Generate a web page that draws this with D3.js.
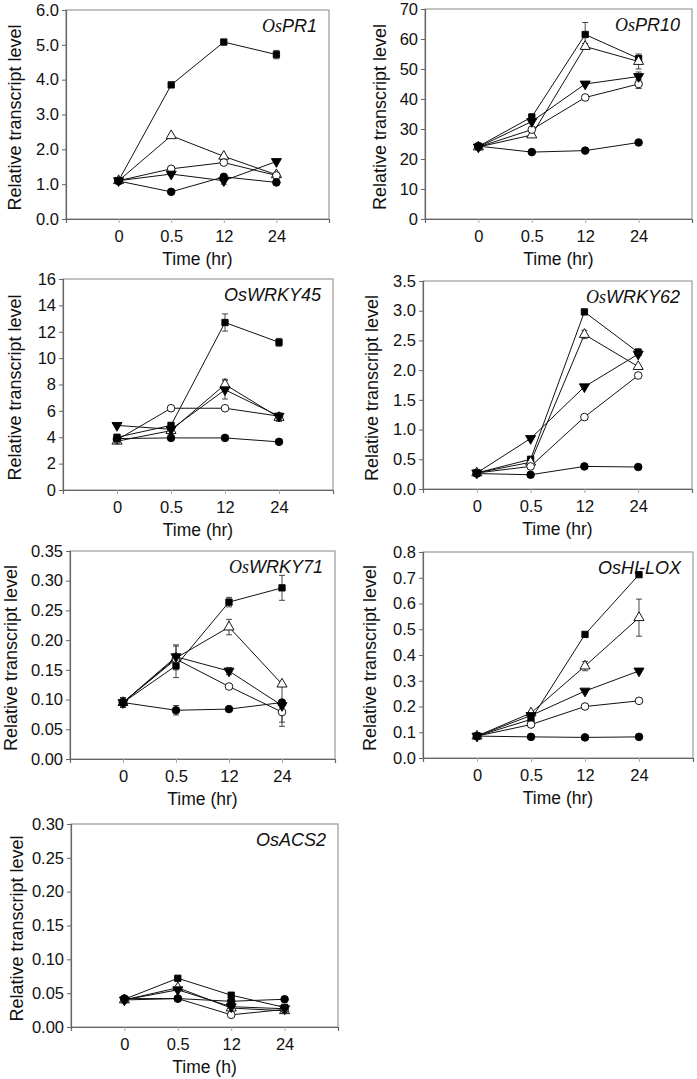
<!DOCTYPE html>
<html>
<head>
<meta charset="utf-8">
<script src="https://cdn.jsdelivr.net/npm/d3@7"></script>
<style>
  body { margin: 0; background: #fff; }
  text { font-family: "Liberation Sans", Arial, sans-serif; fill: #111; }
  .axis-title { font-size: 17.5px; }
  .y-title { font-size: 18px; }
  .gene { font-size: 18px; font-style: italic; }
  .os-serif { font-family: "Liberation Serif", "Times New Roman", serif; }
</style>
</head>
<body>
<div class="chart"></div>
<script>
// x categories (time points)
const times = ['0', '0.5', '12', '24'];

// gene panels
const genes = ['PR1', 'PR10', 'WRKY45', 'WRKY62', 'WRKY71', 'HI-LOX', 'ACS2'];
const serifOs = [true, true, false, true, true, false, false];
const yMax = [6, 70, 16, 3.5, 0.35, 0.8, 0.30];
const yStep = [1, 10, 2, 0.5, 0.05, 0.1, 0.05];
const yFmt = ['.1f', 'd', 'd', '.1f', '.2f', '.1f', '.2f'];
const xTitles = ['Time (hr)', 'Time (hr)', 'Time (hr)', 'Time (hr)', 'Time (hr)', 'Time (hr)', 'Time (h)'];

// series order: filled square, open triangle, open circle, filled down-triangle, filled circle
const pr1 = [
  [1.1, 3.85, 5.08, 4.72],
  [1.1, 2.39, 1.8, 1.27],
  [1.1, 1.44, 1.62, 1.25],
  [1.1, 1.29, 1.1, 1.65],
  [1.09, 0.78, 1.21, 1.05]
];
const pr1Err = [
  [0.03, 0.05, 0.05, 0.12],
  [0.03, 0.08, 0.06, 0.05],
  [0.03, 0.04, 0.05, 0.04],
  [0.03, 0.04, 0.1, 0.04],
  [0.03, 0.04, 0.05, 0.04]
];

const pr10 = [
  [24.2, 34, 61.5, 53.5],
  [24, 28, 57.5, 52.5],
  [24, 29.8, 40.5, 45],
  [24, 32.5, 45, 47.5],
  [24.3, 22.3, 22.8, 25.5]
];
const pr10Err = [
  [0.5, 1, 4, 1],
  [0.5, 0.8, 1, 2.5],
  [0.5, 0.8, 0.8, 1.5],
  [0.5, 0.8, 0.6, 1.5],
  [0.5, 0.5, 0.6, 0.6]
];

const wrky45 = [
  [4.0, 4.9, 12.7, 11.2],
  [3.7, 4.5, 8.0, 5.5],
  [3.8, 6.2, 6.2, 5.6],
  [4.9, 4.6, 7.6, 5.6],
  [3.9, 3.95, 3.95, 3.65]
];
const wrky45Err = [
  [0.15, 0.15, 0.65, 0.3],
  [0.1, 0.15, 0.4, 0.3],
  [0.1, 0.1, 0.1, 0.15],
  [0.1, 0.1, 0.7, 0.2],
  [0.1, 0.15, 0.1, 0.1]
];

const wrky62 = [
  [0.27, 0.5, 2.98, 2.3],
  [0.27, 0.45, 2.6, 2.06],
  [0.27, 0.38, 1.21, 1.91],
  [0.27, 0.85, 1.72, 2.27],
  [0.26, 0.24, 0.38, 0.37]
];
const wrky62Err = [
  [0.02, 0.03, 0.03, 0.06],
  [0.02, 0.03, 0.07, 0.05],
  [0.02, 0.03, 0.03, 0.04],
  [0.02, 0.02, 0.03, 0.03],
  [0.02, 0.02, 0.02, 0.02]
];

const wrky71 = [
  [0.095, 0.157, 0.264, 0.288],
  [0.095, 0.17, 0.222, 0.126],
  [0.095, 0.168, 0.122, 0.079],
  [0.095, 0.172, 0.148, 0.09],
  [0.095, 0.082, 0.084, 0.095]
];
const wrky71Err = [
  [0.008, 0.02, 0.008, 0.021],
  [0.008, 0.02, 0.013, 0.005],
  [0.008, 0.005, 0.004, 0.017],
  [0.008, 0.02, 0.006, 0.035],
  [0.008, 0.008, 0.004, 0.004]
];

const hilox = [
  [0.085, 0.15, 0.48, 0.712],
  [0.085, 0.175, 0.357, 0.545],
  [0.085, 0.13, 0.2, 0.222],
  [0.085, 0.165, 0.26, 0.338],
  [0.085, 0.082, 0.08, 0.082]
];
const hiloxErr = [
  [0.005, 0.006, 0.006, 0.006],
  [0.005, 0.01, 0.018, 0.072],
  [0.005, 0.005, 0.005, 0.008],
  [0.005, 0.006, 0.008, 0.006],
  [0.005, 0.004, 0.004, 0.004]
];

const acs2 = [
  [0.041, 0.072, 0.047, 0.029],
  [0.04, 0.058, 0.028, 0.024],
  [0.04, 0.042, 0.018, 0.026],
  [0.04, 0.055, 0.03, 0.027],
  [0.042, 0.042, 0.038, 0.041]
];
const acs2Err = [
  [0.003, 0.003, 0.003, 0.003],
  [0.003, 0.004, 0.003, 0.003],
  [0.003, 0.003, 0.003, 0.003],
  [0.003, 0.003, 0.003, 0.003],
  [0.003, 0.003, 0.003, 0.003]
];

const values = [pr1, pr10, wrky45, wrky62, wrky71, hilox, acs2];
const errors = [pr1Err, pr10Err, wrky45Err, wrky62Err, wrky71Err, hiloxErr, acs2Err];

// panel frames [left, top, right, bottom] and y title center x
const frames = [
  [66, 10, 329, 219, 15],
  [425, 9, 692, 219, 380],
  [63, 279, 333, 490, 15],
  [423, 281, 692, 489, 372],
  [70, 551, 335, 759, 11],
  [423, 552, 693, 758, 370],
  [71, 824, 338, 1027, 17]
];

const W = 697, H = 1079;

const svg = d3.select('.chart')
  .append('svg')
    .attr('width', W)
    .attr('height', H);

// marker shapes
const sym = [
  { type: d3.symbolSquare, size: 40, fill: '#000', rot: 0 },
  { type: d3.symbolTriangle, size: 44, fill: '#fff', rot: 0 },
  { type: d3.symbolCircle, size: 46, fill: '#fff', rot: 0 },
  { type: d3.symbolTriangle, size: 44, fill: '#000', rot: 180 },
  { type: d3.symbolCircle, size: 46, fill: '#000', rot: 0 }
];

genes.forEach((gene, p) => {
  const [x0, y0, x1, y1, ylx] = frames[p];
  const g = svg.append('g');

  const x = d3.scaleLinear().domain([-1, times.length]).range([x0, x1]);
  const y = d3.scaleLinear().domain([0, yMax[p]]).range([y1, y0]);

  // frame: top/right lighter
  g.append('rect')
    .attr('x', x0).attr('y', y0)
    .attr('width', x1 - x0).attr('height', y1 - y0)
    .attr('fill', 'none')
    .attr('stroke', '#9a9a9a')
    .attr('stroke-width', 1.2);

  // y axis
  const ticks = d3.range(0, yMax[p] + yStep[p] / 2, yStep[p]);
  const yAxis = g.append('g')
    .attr('transform', `translate(${x0},0)`)
    .call(d3.axisLeft(y).tickValues(ticks).tickFormat(d3.format(yFmt[p])).tickSize(4).tickPadding(3));
  yAxis.select('.domain').attr('stroke', '#666').attr('stroke-width', 1.2);
  yAxis.selectAll('.tick line').attr('stroke', '#666');
  yAxis.attr('font-family', null).attr('font-size', null);
  yAxis.selectAll('.tick text')
    .attr('fill', '#111')
    .style('font-size', '16.5px');

  // x axis
  const xAxis = g.append('g')
    .attr('transform', `translate(0,${y1})`)
    .call(d3.axisBottom(x).tickValues(d3.range(times.length)).tickFormat(i => times[i]).tickSize(4).tickPadding(7));
  xAxis.select('.domain').attr('stroke', '#666').attr('stroke-width', 1.2);
  xAxis.selectAll('.tick line').attr('stroke', '#aaa');
  xAxis.attr('font-family', null).attr('font-size', null);
  xAxis.selectAll('.tick text')
    .attr('fill', '#111')
    .style('font-size', '16.5px');

  // axis titles
  g.append('text')
    .attr('class', 'axis-title')
    .attr('x', (x0 + x1) / 2)
    .attr('y', y1 + 46)
    .attr('text-anchor', 'middle')
    .text(xTitles[p]);

  g.append('text')
    .attr('class', 'y-title')
    .attr('transform', `translate(${ylx},${(y0 + y1) / 2 + 3}) rotate(-90)`)
    .attr('dy', '0.35em')
    .attr('text-anchor', 'middle')
    .text('Relative transcript level');

  // gene name
  const t = g.append('text')
    .attr('class', 'gene')
    .attr('x', x1 - 12)
    .attr('y', y0 + 22)
    .attr('text-anchor', 'end');
  t.append('tspan').attr('class', serifOs[p] ? 'os-serif' : null).text('Os');
  t.append('tspan').text(gene);

  const line = d3.line()
    .x((d, i) => x(i))
    .y(d => y(d));

  const series = values[p];
  const errs = errors[p];

  // lines
  series.forEach(s => {
    g.append('path')
      .datum(s)
      .attr('d', line)
      .attr('fill', 'none')
      .attr('stroke', '#111')
      .attr('stroke-width', 1);
  });

  // error bars
  series.forEach((s, k) => {
    s.forEach((v, i) => {
      const e = errs[k][i];
      if (y(v - e) - y(v + e) < 6) return;
      const cx = x(i);
      g.append('path')
        .attr('d', `M${cx},${y(v - e)}V${y(v + e)}M${cx - 3},${y(v - e)}h6M${cx - 3},${y(v + e)}h6`)
        .attr('stroke', '#333')
        .attr('stroke-width', 0.9)
        .attr('fill', 'none');
    });
  });

  // markers
  series.forEach((s, k) => {
    const m = sym[k];
    g.selectAll(null)
      .data(s)
      .enter().append('path')
        .attr('d', d3.symbol().type(m.type).size(m.size))
        .attr('transform', (d, i) => `translate(${x(i)},${y(d)}) rotate(${m.rot})`)
        .attr('fill', m.fill)
        .attr('stroke', '#000')
        .attr('stroke-width', 0.9);
  });
});
</script>
</body>
</html>
